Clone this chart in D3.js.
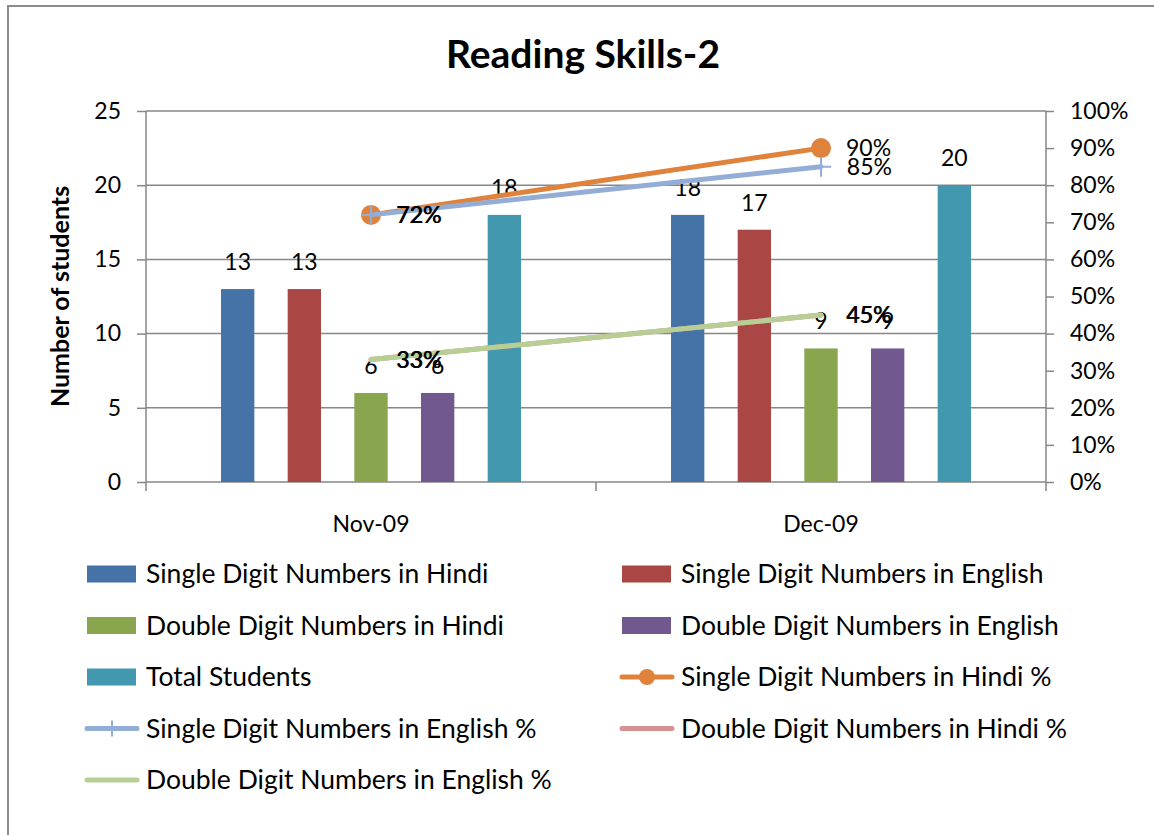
<!DOCTYPE html>
<html>
<head>
<meta charset="utf-8">
<script src="https://cdnjs.cloudflare.com/ajax/libs/d3/7.8.5/d3.min.js"></script>
<style>
  body { margin: 0; background: #fff; }
  svg { display: block; font-family: Lato, "Open Sans", sans-serif; }
</style>
</head>
<body>
<div id="chart"></div>
<script>
// Data
const categories = ["Nov-09", "Dec-09"];
const barNames = ["Single Digit Numbers in Hindi", "Single Digit Numbers in English",
  "Double Digit Numbers in Hindi", "Double Digit Numbers in English", "Total Students"];
const singleHindi = [13, 18];
const singleEnglish = [13, 17];
const doubleHindi = [6, 9];
const doubleEnglish = [6, 9];
const totalStudents = [18, 20];

const lineNames = ["Single Digit Numbers in Hindi %", "Single Digit Numbers in English %",
  "Double Digit Numbers in Hindi %", "Double Digit Numbers in English %"];
const singleHindiPct = [0.72, 0.90];
const singleEnglishPct = [0.72, 0.85];
const doubleHindiPct = [0.33, 0.45];
const doubleEnglishPct = [0.33, 0.45];

const leftTicks = [0, 5, 10, 15, 20, 25];
const rightTicks = [0, 0.1, 0.2, 0.3, 0.4, 0.5, 0.6, 0.7, 0.8, 0.9, 1.0];

const barColors = ["#4572A7", "#AA4643", "#89A54E", "#71588F", "#4198AF"];
const lineColors = ["#DF823B", "#93ADD6", "#D69290", "#B7CE95"];

const barValues = [singleHindi, singleEnglish, doubleHindi, doubleEnglish, totalStudents];
const lineValues = [singleHindiPct, singleEnglishPct, doubleHindiPct, doubleEnglishPct];

const width = 1154, height = 835;
const plot = { left: 146, right: 1046, top: 111, bottom: 482 };
const grey = "#878787";
const numSize = "23px", textSize = "26.5px";

const svg = d3.select("#chart").append("svg")
  .attr("width", width).attr("height", height);

// outer chart border (only top and left visible)
svg.append("rect")
  .attr("x", 8).attr("y", 6).attr("width", 1200).attr("height", 900)
  .attr("fill", "none").attr("stroke", "#8c8c8c").attr("stroke-width", 2);

const x0 = d3.scaleBand().domain(categories).range([plot.left, plot.right]);
const x1 = d3.scaleBand().domain(barNames).range([0, x0.bandwidth()])
  .paddingInner(0.5).paddingOuter(1.125);
const y = d3.scaleLinear().domain([0, 25]).range([plot.bottom, plot.top]);
const y2 = d3.scaleLinear().domain([0, 1]).range([plot.bottom, plot.top]);

// gridlines
svg.append("g").selectAll("line")
  .data(leftTicks.slice(1))
  .join("line")
  .attr("x1", plot.left).attr("x2", plot.right)
  .attr("y1", d => y(d)).attr("y2", d => y(d))
  .attr("stroke", grey).attr("stroke-width", 1.5);

// left axis
const leftAxis = svg.append("g")
  .attr("transform", `translate(${plot.left},0)`)
  .call(d3.axisLeft(y).tickValues(leftTicks).tickSize(9).tickPadding(16));
// right axis
const rightAxis = svg.append("g")
  .attr("transform", `translate(${plot.right},0)`)
  .call(d3.axisRight(y2).tickValues(rightTicks).tickSize(8).tickPadding(16)
    .tickFormat(d3.format(".0%")));
// bottom axis
const bottomAxis = svg.append("g")
  .attr("transform", `translate(0,${plot.bottom})`)
  .call(d3.axisBottom(x0).tickSize(0).tickPadding(34));
bottomAxis.selectAll(".cat-tick")
  .data([plot.left, (plot.left + plot.right) / 2, plot.right])
  .join("line")
  .attr("class", "cat-tick")
  .attr("x1", d => d).attr("x2", d => d)
  .attr("y1", 0).attr("y2", 9)
  .attr("stroke", grey).attr("stroke-width", 1.5);

[leftAxis, rightAxis, bottomAxis].forEach(a => {
  a.select(".domain").attr("stroke", grey).attr("stroke-width", 1.5);
  a.selectAll(".tick line").attr("stroke", grey).attr("stroke-width", 1.5);
  a.selectAll("text").attr("fill", "#000").style("font-size", numSize).style("font-family", "Lato");
});
leftAxis.select(".domain").attr("d", `M0,${plot.top}V${plot.bottom}`);
rightAxis.select(".domain").attr("d", `M0,${plot.top}V${plot.bottom}`);
bottomAxis.select(".domain").attr("d", `M${plot.left},0H${plot.right}`);

// bars
const groups = svg.append("g").selectAll("g")
  .data(categories)
  .join("g")
  .attr("transform", d => `translate(${x0(d)},0)`);

groups.selectAll("rect")
  .data((c, i) => barNames.map((name, s) => ({ name, s, value: barValues[s][i] })))
  .join("rect")
  .attr("x", d => x1(d.name))
  .attr("width", x1.bandwidth())
  .attr("y", d => y(d.value))
  .attr("height", d => y(0) - y(d.value))
  .attr("fill", d => barColors[d.s]);

// lines
const cx = c => x0(c) + x0.bandwidth() / 2;
const line = d3.line().x(d => cx(d.c)).y(d => y2(d.v));
lineValues.forEach((vals, s) => {
  const pts = categories.map((c, i) => ({ c, v: vals[i] }));
  svg.append("path")
    .datum(pts)
    .attr("d", line)
    .attr("fill", "none")
    .attr("stroke", lineColors[s])
    .attr("stroke-width", 5)
    .attr("stroke-linecap", "round");
  if (s === 0) {
    svg.append("g").selectAll("circle").data(pts).join("circle")
      .attr("cx", d => cx(d.c)).attr("cy", d => y2(d.v)).attr("r", 10)
      .attr("fill", lineColors[s]);
  }
  if (s === 1) {
    svg.append("g").selectAll("path").data(pts).join("path")
      .attr("d", d => `M${cx(d.c) - 10},${y2(d.v)}h20M${cx(d.c)},${y2(d.v) - 10}v20`)
      .attr("stroke", lineColors[s]).attr("stroke-width", 2);
  }
});

// bar value labels
groups.selectAll("text")
  .data((c, i) => barNames.map((name, s) => ({ name, s, value: barValues[s][i] })))
  .join("text")
  .attr("x", d => x1(d.name) + x1.bandwidth() / 2)
  .attr("y", d => y(d.value) - 19)
  .attr("text-anchor", "middle")
  .style("font-size", numSize)
  .text(d => d.value);

// line value labels
lineValues.forEach((vals, s) => {
  svg.append("g").selectAll("text")
    .data(categories.map((c, i) => ({ c, v: vals[i] })))
    .join("text")
    .attr("x", d => cx(d.c) + 25 + (s % 2) * 0.8)
    .attr("y", d => y2(d.v))
    .attr("dy", "0.36em")
    .style("font-size", numSize)
    .text(d => d3.format(".0%")(d.v));
});

// title and axis title
svg.append("text")
  .attr("x", 583).attr("y", 68)
  .attr("text-anchor", "middle")
  .style("font-size", "39px").style("font-weight", "bold")
  .text("Reading Skills-2");

svg.append("text")
  .attr("transform", `translate(69,${(plot.top + plot.bottom) / 2}) rotate(-90)`)
  .attr("text-anchor", "middle")
  .style("font-size", "25px").style("font-weight", "bold")
  .text("Number of students");

// legend
const legendItems = [
  { name: barNames[0], type: "bar", color: barColors[0] },
  { name: barNames[1], type: "bar", color: barColors[1] },
  { name: barNames[2], type: "bar", color: barColors[2] },
  { name: barNames[3], type: "bar", color: barColors[3] },
  { name: barNames[4], type: "bar", color: barColors[4] },
  { name: lineNames[0], type: "circle", color: lineColors[0] },
  { name: lineNames[1], type: "plus", color: lineColors[1] },
  { name: lineNames[2], type: "line", color: lineColors[2] },
  { name: lineNames[3], type: "line", color: lineColors[3] }
];
const colX = [87, 622];
const legend = svg.append("g").selectAll("g")
  .data(legendItems)
  .join("g")
  .attr("transform", (d, i) => `translate(${colX[i % 2]},${574 + Math.floor(i / 2) * 51.5})`);

legend.each(function (d) {
  const g = d3.select(this);
  if (d.type === "bar") {
    g.append("rect").attr("x", 0).attr("y", -8.5).attr("width", 49).attr("height", 17).attr("fill", d.color);
  } else {
    g.append("line").attr("x1", 0).attr("x2", 50).attr("y1", 0).attr("y2", 0)
      .attr("stroke", d.color).attr("stroke-width", 5).attr("stroke-linecap", "round");
    if (d.type === "circle") g.append("circle").attr("cx", 25).attr("cy", 0).attr("r", 8).attr("fill", d.color);
    if (d.type === "plus") g.append("line").attr("x1", 25).attr("x2", 25).attr("y1", -8).attr("y2", 8)
      .attr("stroke", d.color).attr("stroke-width", 2);
  }
  g.append("text").attr("x", 59).attr("y", 0).attr("dy", "0.35em")
    .style("font-size", textSize).text(d.name);
});
</script>
</body>
</html>
